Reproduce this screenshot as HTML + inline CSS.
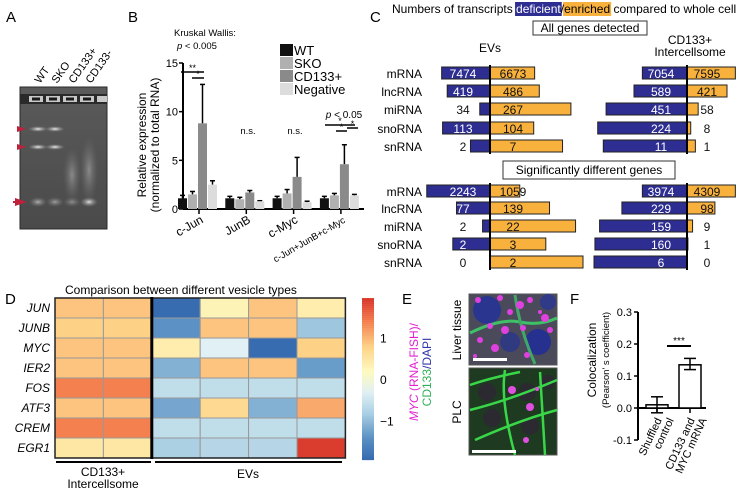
<!DOCTYPE html>
<html><head><meta charset="utf-8">
<style>
html,body{margin:0;padding:0;background:#fff;}
svg{display:block;font-family:"Liberation Sans",Arial,sans-serif;}
</style></head>
<body>
<svg id="fig" width="751" height="489" viewBox="0 0 751 489">
<defs>
<radialGradient id="band" cx="50%" cy="50%" r="50%"><stop offset="0" stop-color="#f0f0f0"/><stop offset="1" stop-color="#888" stop-opacity="0"/></radialGradient>
<radialGradient id="smear" cx="50%" cy="50%" r="50%"><stop offset="0" stop-color="#8a8a8a"/><stop offset="1" stop-color="#666" stop-opacity="0"/></radialGradient>
<linearGradient id="gelbg" x1="0" y1="0" x2="0" y2="1"><stop offset="0" stop-color="#5a5a5a"/><stop offset="1" stop-color="#4a4a4a"/></linearGradient>
</defs>
<text x="6" y="22" font-size="15">A</text>
<text x="128" y="22" font-size="15">B</text>
<text x="370" y="22" font-size="15">C</text>
<text x="5" y="304" font-size="15">D</text>
<text x="402" y="304" font-size="15">E</text>
<text x="570" y="304" font-size="15">F</text>

<g>
<rect x="20" y="87" width="87" height="142" fill="url(#gelbg)" stroke="#2a2a2a"/>
<rect x="20" y="94" width="87" height="10" fill="#2a2a2a"/>
<g fill="#c8c8c8"><rect x="29" y="96" width="14" height="6"/><rect x="46" y="96" width="14" height="6"/><rect x="63" y="96" width="14" height="6"/><rect x="80" y="96" width="14" height="6"/><rect x="97" y="96" width="10" height="6"/></g>
<g fill="#1a1a1a"><rect x="32" y="97.5" width="8" height="3"/><rect x="49" y="97.5" width="8" height="3"/><rect x="66" y="97.5" width="8" height="3"/><rect x="83" y="97.5" width="8" height="3"/></g>
<ellipse cx="38" cy="129" rx="10" ry="3" fill="url(#band)"/><ellipse cx="55" cy="129" rx="10" ry="3" fill="url(#band)"/>
<ellipse cx="38" cy="147" rx="10" ry="3" fill="url(#band)"/><ellipse cx="55" cy="147" rx="10" ry="3" fill="url(#band)"/>
<ellipse cx="72" cy="175" rx="9" ry="28" fill="url(#smear)"/><ellipse cx="89" cy="170" rx="9" ry="34" fill="url(#smear)"/>
<ellipse cx="38" cy="202" rx="9" ry="5" fill="url(#band)" opacity=".6"/><ellipse cx="55" cy="202" rx="9" ry="5" fill="url(#band)" opacity=".5"/><ellipse cx="72" cy="202" rx="9" ry="5" fill="url(#band)" opacity=".4"/><ellipse cx="89" cy="202" rx="9" ry="5" fill="url(#band)" opacity=".9"/>
<polygon points="17,126 26,129 17,132" fill="#c0203a"/><polygon points="17,144 26,147 17,150" fill="#c0203a"/>
<polygon points="15,198 27,202 15,206" fill="#c0203a"/><rect x="13" y="201" width="6" height="2" fill="#c0203a"/>
<g font-size="11">
<text transform="translate(40,84) rotate(-55)">WT</text>
<text transform="translate(57,84) rotate(-55)">SKO</text>
<text transform="translate(74,84) rotate(-55)">CD133+</text>
<text transform="translate(91,84) rotate(-55)">CD133-</text>
</g>
</g>

<g id="panelB">
<text x="174" y="36" font-size="9.5">Kruskal Wallis:</text>
<text x="177" y="49" font-size="9.5"><tspan font-style="italic">p</tspan> &lt; 0.005</text>
<text transform="translate(146,145) rotate(-90)" text-anchor="middle" font-size="12">Relative expression</text>
<text transform="translate(159,145) rotate(-90)" text-anchor="middle" font-size="12">(normalized to total RNA)</text>
<text x="248" y="134" font-size="9.5" text-anchor="middle">n.s.</text>
<text x="295" y="134" font-size="9.5" text-anchor="middle">n.s.</text>
<text x="344" y="118" font-size="10" text-anchor="middle"><tspan font-style="italic">p</tspan> &lt; 0.05</text>
</g>

<g id="panelC">
<text id="ctitle" x="392" y="13" font-size="12">Numbers of transcripts <tspan id="wdef" fill="#fff">deficient</tspan>/<tspan id="wenr">enriched</tspan> compared to whole cell</text>
<rect x="533" y="21" width="114" height="14" fill="#fff" stroke="#333"/>
<text x="590" y="32" font-size="12" text-anchor="middle">All genes detected</text>
<rect x="503" y="161" width="172" height="18" fill="#fff" stroke="#333"/>
<text x="589" y="174" font-size="12" text-anchor="middle">Significantly different genes</text>
<text x="490" y="52" font-size="12" text-anchor="middle">EVs</text>
<text x="690" y="44" font-size="12" text-anchor="middle">CD133+</text>
<text x="690" y="56" font-size="12" text-anchor="middle">Intercellsome</text>
</g>

<g id="panelD">
<text x="65" y="294" font-size="12">Comparison between different vesicle types</text>
<rect x="56" y="461" width="95" height="2" fill="#000"/>
<rect x="155" y="461" width="187" height="2" fill="#000"/>
<text x="103" y="476" font-size="12" text-anchor="middle">CD133+</text>
<text x="103" y="488" font-size="12" text-anchor="middle">Intercellsome</text>
<text x="248" y="478" font-size="12" text-anchor="middle">EVs</text>
</g>

<g>
<text transform="translate(418,372) rotate(-90)" text-anchor="middle" font-size="12"><tspan fill="#e020d0" font-style="italic">MYC</tspan><tspan fill="#e020d0"> (RNA-FISH)/</tspan></text>
<text transform="translate(431,372) rotate(-90)" text-anchor="middle" font-size="12"><tspan fill="#2fb05a">CD133</tspan><tspan fill="#3333aa">/DAPI</tspan></text>
<text transform="translate(461,330) rotate(-90)" text-anchor="middle" font-size="12">Liver tissue</text>
<text transform="translate(461,412) rotate(-90)" text-anchor="middle" font-size="12">PLC</text>
<g>
<rect x="469" y="294" width="88" height="71" fill="#4a4a5a" stroke="#555"/>
<circle cx="487" cy="310" r="14" fill="#2a3590"/><circle cx="510" cy="342" r="10" fill="#303a80"/><circle cx="538" cy="342" r="13" fill="#26318f"/><circle cx="548" cy="302" r="8" fill="#303a88"/>
<path d="M470 333 Q500 318 520 322 T557 318" stroke="#3fbf66" stroke-width="3" fill="none"/>
<path d="M515 295 Q520 330 535 364" stroke="#3fa866" stroke-width="3" fill="none"/>
<g fill="#e040e0"><circle cx="478" cy="300" r="3"/><circle cx="500" cy="298" r="3"/><circle cx="520" cy="305" r="4"/><circle cx="530" cy="300" r="3"/><circle cx="545" cy="318" r="4"/><circle cx="505" cy="330" r="4"/><circle cx="480" cy="340" r="3"/><circle cx="495" cy="348" r="4"/><circle cx="523" cy="328" r="3"/><circle cx="550" cy="330" r="3"/><circle cx="490" cy="326" r="3"/><circle cx="510" cy="312" r="3"/><circle cx="540" cy="312" r="2"/><circle cx="475" cy="356" r="2"/><circle cx="527" cy="355" r="3"/></g>
<rect x="473" y="358" width="34" height="3" fill="#fff"/>
</g>
<g>
<rect x="469" y="368" width="88" height="87" fill="#1e3a20" stroke="#555"/>
<g fill="#2a2a30"><circle cx="487" cy="392" r="9"/><circle cx="527" cy="392" r="9"/><circle cx="492" cy="418" r="9"/><circle cx="530" cy="426" r="9"/><circle cx="548" cy="382" r="7"/></g>
<g stroke="#3ad64a" stroke-width="2.5" fill="none"><path d="M470 410 Q510 400 557 380"/><path d="M475 440 Q520 420 557 410"/><path d="M505 370 Q500 400 515 455"/><path d="M470 385 Q490 378 520 372"/><path d="M540 372 L545 455"/></g>
<g fill="#e050e0"><circle cx="512" cy="390" r="4"/><circle cx="530" cy="407" r="4"/><circle cx="526" cy="440" r="3"/><circle cx="537" cy="389" r="2"/></g>
<rect x="472" y="450" width="44" height="3" fill="#fff"/>
</g>
</g>

<g id="panelF">
<text transform="translate(596,360) rotate(-90)" text-anchor="middle" font-size="12">Colocalization</text>
<text transform="translate(609,360) rotate(-90)" text-anchor="middle" font-size="9.5">(Pearson' s coefficient)</text>
</g>

<g id="colorbar"></g>
</svg>

<script>
const NS="http://www.w3.org/2000/svg";
const svg=document.getElementById('fig');
function mk(tag,attrs,parent){const e=document.createElementNS(NS,tag);for(const k in attrs)e.setAttribute(k,attrs[k]);(parent||svg).appendChild(e);return e;}

/* ---------- Panel B data ---------- */
const bCategories=["c-Jun","JunB","c-Myc","c-Jun+JunB+c-Myc"];
const bSeries=["WT","SKO","CD133+","Negative"];
const bWT=[1.1,1.1,1.1,1.1];
const bSKO=[1.5,1.0,1.6,1.4];
const bCD=[8.8,1.7,3.3,4.6];
const bNeg=[2.5,0.8,0.7,1.4];
const bWTerr=[0.3,0.2,0.2,0.2];
const bSKOerr=[0.3,0.2,0.4,0.2];
const bCDerr=[4.0,0.2,2.0,2.0];
const bNegerr=[0.4,0.05,0.1,0.1];
const bTicks=[0,5,10,15];
</script>
<script>
(function(){
const g=document.getElementById('panelB');
const x0=183,y0=209,yTop=63,ymax=15;
const y=v=>y0-(v/ymax)*(y0-yTop);
const groupX=i=>178+i*47.3;
const colors=["#111","#b0b0b0","#8a8a8a","#dcdcdc"];
const vals=[bWT,bSKO,bCD,bNeg], errs=[bWTerr,bSKOerr,bCDerr,bNegerr];
mk('line',{x1:x0,y1:yTop,x2:x0,y2:y0,stroke:'#000','stroke-width':2},g);
mk('line',{x1:x0,y1:y0,x2:364,y2:y0,stroke:'#000','stroke-width':2},g);
bTicks.forEach(t=>{
 mk('line',{x1:x0-4,y1:y(t),x2:x0,y2:y(t),stroke:'#000','stroke-width':1.5},g);
 const tx=mk('text',{x:x0-5,y:y(t)+4,'font-size':11,'text-anchor':'end'},g);tx.textContent=t;
 
 
});
bCategories.forEach((c,i)=>{
 const gx=groupX(i);
 mk('line',{x1:gx+21,y1:y0,x2:gx+21,y2:y0+5,stroke:'#000','stroke-width':1.5},g);
 const lt=mk('text',{transform:`translate(${gx+26},${y0+13}) rotate(-30)`,'font-size':i==3?9.5:12,'text-anchor':'end'},g);lt.textContent=c;
 
 
 for(let s=0;s<4;s++){
  const bx=gx+s*10,v=vals[s][i],e=errs[s][i];
  mk('line',{x1:bx+4.5,y1:y(v),x2:bx+4.5,y2:y(v+e),stroke:'#000','stroke-width':1.5},g);
  mk('line',{x1:bx+2,y1:y(v+e),x2:bx+7,y2:y(v+e),stroke:'#000','stroke-width':1.5},g);
  const r=mk('rect',{x:bx,y:y(v),width:9,height:y0-y(v),fill:colors[s]},g);
  
  
 }
});
bSeries.forEach((s,k)=>{
 const ly=44+k*13;
 const r=mk('rect',{x:280,y:ly,width:13,height:12,fill:colors[k]},g);
 
 
 const t=mk('text',{x:294,y:ly+11,'font-size':13},g);t.textContent=s;
 
 
});
[[181,204,72,'**'],[192,204,78,'*'],[325,355,125,'*'],[336,347,131,'*'],[347,358,128,'*']].forEach(a=>{
 mk('line',{x1:a[0],y1:a[2],x2:a[1],y2:a[2],stroke:'#000','stroke-width':1.5},g);
 const t=mk('text',{x:(a[0]+a[1])/2,y:a[2]-1,'font-size':9,'text-anchor':'middle'},g);t.textContent=a[3];
 
 
});
})();
</script>
<script>
/* ---------- Panel C data ---------- */
const cRNA=["mRNA","lncRNA","miRNA","snoRNA","snRNA"];
const cEvAllDef=[7474,419,34,113,2];
const cEvAllEnr=[6673,486,267,104,7];
const cEvAllDefPct=[52,46,11,51,21];
const cEvAllEnrPct=[48,53,87,47,78];
const cCdAllDef=[7054,589,451,224,11];
const cCdAllEnr=[7595,421,58,8,1];
const cCdAllDefPct=[48,57,87,96,90];
const cCdAllEnrPct=[52,43,12,4,9];
const cEvSigDef=[2243,77,2,2,0];
const cEvSigEnr=[1059,139,22,3,2];
const cEvSigDefPct=[68,36,8,40,0];
const cEvSigEnrPct=[32,64,92,60,100];
const cCdSigDef=[3974,229,159,160,6];
const cCdSigEnr=[4309,98,9,1,0];
const cCdSigDefPct=[48,70,94,99,100];
const cCdSigEnrPct=[52,30,6,1,0];
</script>
<script>
(function(){
const g=document.getElementById('panelC');
const BLUE="#2e2e92",ORANGE="#f8b13c";
const w=p=>p*0.93;
const tt=document.getElementById('ctitle');
function section(rowsY,axisX,defV,enrV,defP,enrP,lblL,lblR,name){
 rowsY.forEach((ry,i)=>{
  if(defP[i]>0){const r=mk('rect',{x:axisX-w(defP[i]),y:ry-6,width:w(defP[i]),height:12,fill:BLUE,stroke:'#222','stroke-width':1},g);
   
   }
  if(enrP[i]>0){const r=mk('rect',{x:axisX,y:ry-6,width:w(enrP[i]),height:12,fill:ORANGE,stroke:'#222','stroke-width':1},g);
   
   }
  const lx=axisX-lblL, inL=w(defP[i])>=lblL+6;
  const t1=mk('text',{x:lx,y:ry+5,'font-size':12,'text-anchor':'middle',fill:inL?'#fff':'#111'},g);t1.textContent=defV[i];
  
  
  const rx=axisX+lblR;
  const t2=mk('text',{x:rx,y:ry+5,'font-size':12,'text-anchor':'middle',fill:'#111'},g);t2.textContent=enrV[i];
  
  
 });
 mk('line',{x1:axisX,y1:rowsY[0]-8,x2:axisX,y2:rowsY[4]+8,stroke:'#000','stroke-width':2},g);
}
const allY=[73,91,109,128,146], sigY=[191,208,226,244,262];
section(allY,490,cEvAllDef,cEvAllEnr,cEvAllDefPct,cEvAllEnrPct,27,23,'ev-all');
section(allY,687,cCdAllDef,cCdAllEnr,cCdAllDefPct,cCdAllEnrPct,26,20,'cd133-all');
section(sigY,490,cEvSigDef,cEvSigEnr,cEvSigDefPct,cEvSigEnrPct,27,23,'ev-sig');
section(sigY,687,cCdSigDef,cCdSigEnr,cCdSigDefPct,cCdSigEnrPct,26,20,'cd133-sig');
[allY,sigY].forEach(ys=>ys.forEach((ry,i)=>{
 const t=mk('text',{x:422,y:ry+5,'font-size':12,'text-anchor':'end'},g);t.textContent=cRNA[i];
 
 
}));
// title highlights positioned from measured text
const full=tt.textContent;
const iDef=full.indexOf('deficient'), iEnr=full.indexOf('enriched');
let xDef=392+tt.getSubStringLength(0,iDef), wDef=tt.getSubStringLength(iDef,9);
let xEnr=392+tt.getSubStringLength(0,iEnr), wEnr=tt.getSubStringLength(iEnr,8);
const hb=mk('rect',{x:xDef-1,y:2,width:wDef+2,height:14,fill:BLUE},g);g.insertBefore(hb,tt);


const ho=mk('rect',{x:xEnr-1,y:2,width:wEnr+2,height:14,fill:ORANGE},g);g.insertBefore(ho,tt);


})();
</script>
<script>
/* ---------- Panel D data ---------- */
const dGenes=["JUN","JUNB","MYC","IER2","FOS","ATF3","CREM","EGR1"];
const dSamples=["CD133-1","CD133-2","EV-1","EV-2","EV-3","EV-4"];
const dJUN=[0.9,0.9,-1.9,0.3,0.9,0.4];
const dJUNB=[0.8,0.8,-1.4,0.9,0.9,-0.9];
const dMYC=[0.9,0.9,0.4,-0.3,-1.9,0.8];
const dIER2=[0.9,0.9,-1.1,0.9,0.9,-1.3];
const dFOS=[1.4,1.4,-0.6,-0.6,-0.6,-0.6];
const dATF3=[0.9,0.9,-1.2,0.7,-1.1,1.1];
const dCREM=[1.4,1.4,-0.6,-0.6,-0.6,-0.6];
const dEGR1=[0.5,0.5,-0.8,-0.7,-0.7,1.9];
const dColorTicks=[1,0,-1];
</script>
<script>
(function(){
const g=document.getElementById('panelD');
const rows=[dJUN,dJUNB,dMYC,dIER2,dFOS,dATF3,dCREM,dEGR1];
const stops=[[-2,[49,100,172]],[-1.4,[91,145,196]],[-0.8,[171,208,228]],[-0.3,[224,240,244]],[0.2,[254,250,192]],[0.8,[253,210,135]],[1.4,[244,128,80]],[2,[213,48,39]]];
function col(v){v=Math.max(-2,Math.min(2,v));for(let i=0;i<stops.length-1;i++){const a=stops[i],b=stops[i+1];if(v<=b[0]){const t=(v-a[0])/(b[0]-a[0]);const c=a[1].map((x,k)=>Math.round(x+(b[1][k]-x)*t));return `rgb(${c})`;}}return 'rgb(213,48,39)';}
const X=j=>55+j*48.4, Y=i=>298+i*20;
rows.forEach((r,i)=>{
 r.forEach((v,j)=>{
  const c=mk('rect',{x:X(j),y:Y(i),width:48.4,height:20,fill:col(v),stroke:'#999','stroke-width':1},g);
  
  
 });
 const t=mk('text',{x:50,y:Y(i)+14,'font-size':12,'font-style':'italic','text-anchor':'end'},g);t.textContent=dGenes[i];
 
 
});
mk('rect',{x:55,y:298,width:290.4,height:160,fill:'none',stroke:'#222','stroke-width':1.5},g);
mk('line',{x1:151.8,y1:297,x2:151.8,y2:459,stroke:'#000','stroke-width':3},g);
const cb=document.getElementById('colorbar');
const cy=v=>379-v*41.5;
for(let k=0;k<81;k++){const v=1.95-k*3.9/81;mk('rect',{x:362,y:cy(v),width:12,height:2.2,fill:col(v)},cb);}
dColorTicks.forEach(t=>{const tx=mk('text',{x:380,y:cy(t)+5,'font-size':12},cb);tx.textContent=t===-1?'\u22121':t;
 
 });
})();
</script>
<script>
/* ---------- Panel F data ---------- */
const fCategories=[["Shuffled","control"],["CD133 and","MYC mRNA"]];
const fValues=[0.01,0.135];
const fErrHi=[0.035,0.155];
const fErrLo=[-0.015,0.12];
const fTicks=[0.3,0.2,0.1,0.0,-0.1];
const fTickLabels=["0.3","0.2","0.1","0.0","-0.1"];
</script>
<script>
(function(){
const g=document.getElementById('panelF');
const x0=638,y=v=>408-v*320;
mk('line',{x1:x0,y1:y(0.3),x2:x0,y2:y(-0.1),stroke:'#000','stroke-width':2},g);
mk('line',{x1:x0,y1:y(0),x2:706,y2:y(0),stroke:'#000','stroke-width':2},g);
fTicks.forEach((t,k)=>{mk('line',{x1:x0-4,y1:y(t),x2:x0,y2:y(t),stroke:'#000','stroke-width':1.5},g);
 const tx=mk('text',{x:x0-6,y:y(t)+4,'font-size':11,'text-anchor':'end'},g);tx.textContent=fTickLabels[k];
 
 });
const cx=[657,690];
fValues.forEach((v,i)=>{
 const r=mk('rect',{x:cx[i]-11,y:Math.min(y(v),y(0)),width:22,height:Math.abs(y(0)-y(v)),fill:'#fff',stroke:'#000','stroke-width':1.5},g);
 
 
 mk('line',{x1:cx[i],y1:y(fErrHi[i]),x2:cx[i],y2:y(fErrLo[i]),stroke:'#000','stroke-width':1.5},g);
 mk('line',{x1:cx[i]-6,y1:y(fErrHi[i]),x2:cx[i]+6,y2:y(fErrHi[i]),stroke:'#000','stroke-width':1.5},g);
 mk('line',{x1:cx[i]-6,y1:y(fErrLo[i]),x2:cx[i]+6,y2:y(fErrLo[i]),stroke:'#000','stroke-width':1.5},g);
 mk('line',{x1:cx[i],y1:y(0),x2:cx[i],y2:y(0)+5,stroke:'#000','stroke-width':1.5},g);
 fCategories[i].forEach((l,k)=>{
  const t=mk('text',{transform:`translate(${cx[i]+5+k*12},${y(0)+12}) rotate(-65)`,'font-size':11,'text-anchor':'end'},g);t.textContent=l;
  
  
 });
});
mk('line',{x1:667,y1:346,x2:691,y2:346,stroke:'#000','stroke-width':2},g);
const s=mk('text',{x:679,y:344,'font-size':10,'text-anchor':'middle'},g);s.textContent='***';


})();
</script>
</body></html>
